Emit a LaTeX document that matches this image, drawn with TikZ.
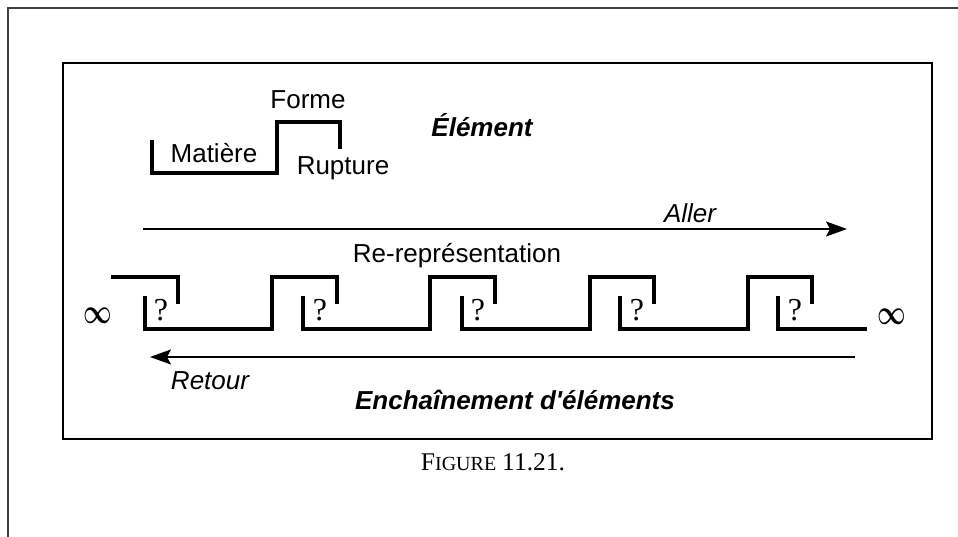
\documentclass[tikz,border=0pt]{standalone}
\usepackage{fontspec}
\setmainfont{Liberation Sans}
\newfontfamily\capfont{Liberation Serif}
\usetikzlibrary{arrows.meta}
\tikzset{
  lbl/.style={inner sep=0pt, font=\fontsize{26}{30}\selectfont},
  ilbl/.style={lbl, font=\fontsize{26}{30}\selectfont\itshape},
  blbl/.style={lbl, font=\fontsize{26}{30}\selectfont\bfseries\itshape},
  qmark/.style={inner sep=0pt, font=\capfont\fontsize{32}{34}\selectfont},
  inf/.style={inner sep=0pt, font=\fontsize{23}{26}\selectfont},
  wave/.style={line width=4pt, line cap=rect, line join=miter},
  flow/.style={line width=1.8pt, -{Stealth[length=21pt,width=15pt,inset=4pt]}},
  frame/.style={line width=2.5pt},
  outer/.style={line width=1.5pt, black!75}
}
\begin{document}
\begin{tikzpicture}[x=1pt,y=-1pt]
\useasboundingbox (0,0) rectangle (958,537);
% outer page frame
\draw[outer] (8,537) -- (8,8) -- (958,8);
% inner box
\draw[frame] (63,63) rectangle (932,439);
% element
\draw[wave] (152,142) -- (152,173) -- (277,173) -- (277,122) -- (340,122) -- (340,147);
\node[lbl] (forme) at (308,100) {Forme};
\node[lbl] (matiere) at (214,153) {Matière};
\node[lbl] (rupture) at (343,168) {Rupture};
\node[blbl] (element) at (482,125) {Élément};
% aller arrow
\coordinate (a1) at (143,229);
\coordinate (a2) at (847,229);
\draw[flow] (a1) -- (a2);
\node[ilbl] (aller) at (690,213) {Aller};
\node[lbl] (rerep) at (457,256) {Re-représentation};
% chain
\draw[wave] (113,277) -- (178,277) -- (178,302);
\foreach \L/\R/\E in {145/272/337, 303/430/495, 462/590/654, 620/748/812}{
  \draw[wave] (\L,298) -- (\L,329) -- (\R,329) -- (\R,277) -- (\E,277) -- (\E,302);
}
\draw[wave] (778,298) -- (778,329) -- (865,329);
\foreach \x/\n in {161/1, 320/2, 478/3, 637/4, 795/5}{
  \node[qmark] (q\n) at (\x,310) {?};
}
\node[inf] (infl) at (98,316) {\scalebox{1}[1.4]{\boldmath$\infty$}};
\node[inf] (infr) at (892,317) {\scalebox{1}[1.4]{\boldmath$\infty$}};
% retour arrow
\coordinate (r1) at (855,357);
\coordinate (r2) at (150,357);
\draw[flow] (r1) -- (r2);
\node[ilbl] (retour) at (210,381) {Retour};
\node[blbl] (chain) at (515,400) {Enchaînement d\textquotesingle éléments};
% caption
\node[inner sep=0pt, font=\capfont] (cap) at (493,462) {{\fontsize{25.5}{28}\selectfont F}{\fontsize{20}{28}\selectfont IGURE}\hspace{6pt}{\fontsize{25.5}{28}\selectfont 11.21.}};
\end{tikzpicture}
\end{document}
